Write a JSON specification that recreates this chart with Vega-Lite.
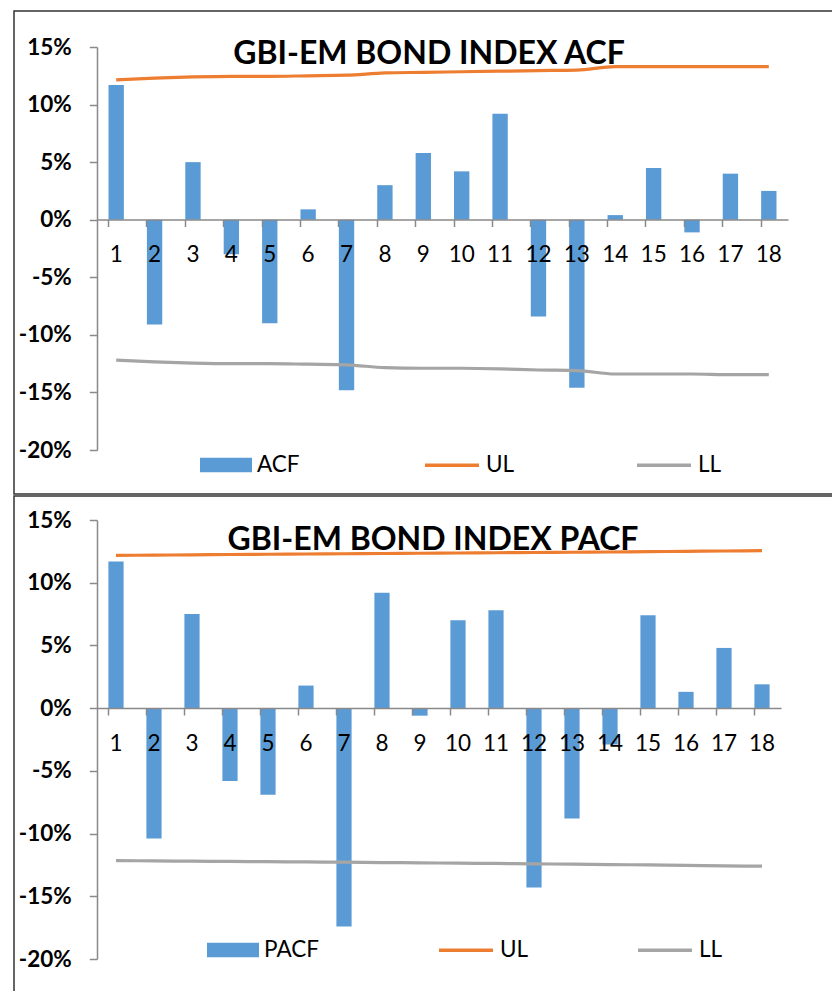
{
  "$schema": "https://vega.github.io/schema/vega-lite/v6.json",
  "padding": {"left": 13, "top": 10, "right": 0, "bottom": 0},
  "background": "white",
  "spacing": 0,
  "config": {
    "view": {"stroke": "#333333", "strokeWidth": 1.5},
    "font": "Lato",
    "axisX": {"domainColor": "#898989", "domainWidth": 1.5, "tickColor": "#898989", "tickWidth": 1.5, "tickSize": 7, "labelFont": "Lato", "labelFontSize": 22.5, "labelColor": "#000000", "labelAngle": 0, "labelPadding": 17, "title": null, "grid": false, "bandPosition": 0, "labelOverlap": false},
    "axisY": {"domainColor": "#898989", "domainWidth": 1.5, "tickColor": "#898989", "tickWidth": 1.5, "tickSize": 7.7, "labelFont": "Lato", "labelFontSize": 22.5, "labelFontWeight": "bold", "labelColor": "#000000", "labelPadding": 18, "title": null, "grid": false, "labelOverlap": false},
    "legend": {"labelFont": "Lato", "labelFontSize": 22.5, "labelColor": "#000000", "labelOffset": 5, "padding": 0, "direction": "horizontal", "orient": "none", "title": null, "rowPadding": 0},
    "title": {"font": "Lato", "fontSize": 32, "fontWeight": "bold", "color": "#000000", "anchor": "middle", "frame": "group", "baseline": "alphabetic"}
  },
  "resolve": {"scale": {"x": "independent", "y": "independent", "fill": "independent", "stroke": "independent"}, "legend": {"fill": "independent", "stroke": "independent"}},
  "datasets": {
    "acf": [
      {"lag": 1, "series": "ACF", "value": 11.7}, {"lag": 2, "series": "ACF", "value": -9.1}, {"lag": 3, "series": "ACF", "value": 5.0},
      {"lag": 4, "series": "ACF", "value": -3.0}, {"lag": 5, "series": "ACF", "value": -9.0}, {"lag": 6, "series": "ACF", "value": 0.9},
      {"lag": 7, "series": "ACF", "value": -14.8}, {"lag": 8, "series": "ACF", "value": 3.0}, {"lag": 9, "series": "ACF", "value": 5.8},
      {"lag": 10, "series": "ACF", "value": 4.2}, {"lag": 11, "series": "ACF", "value": 9.2}, {"lag": 12, "series": "ACF", "value": -8.4},
      {"lag": 13, "series": "ACF", "value": -14.6}, {"lag": 14, "series": "ACF", "value": 0.4}, {"lag": 15, "series": "ACF", "value": 4.5},
      {"lag": 16, "series": "ACF", "value": -1.1}, {"lag": 17, "series": "ACF", "value": 4.0}, {"lag": 18, "series": "ACF", "value": 2.5},
      {"lag": 1, "series": "UL", "value": 12.15}, {"lag": 2, "series": "UL", "value": 12.3}, {"lag": 3, "series": "UL", "value": 12.4},
      {"lag": 4, "series": "UL", "value": 12.45}, {"lag": 5, "series": "UL", "value": 12.45}, {"lag": 6, "series": "UL", "value": 12.5},
      {"lag": 7, "series": "UL", "value": 12.55}, {"lag": 8, "series": "UL", "value": 12.75}, {"lag": 9, "series": "UL", "value": 12.8},
      {"lag": 10, "series": "UL", "value": 12.85}, {"lag": 11, "series": "UL", "value": 12.9}, {"lag": 12, "series": "UL", "value": 12.95},
      {"lag": 13, "series": "UL", "value": 13.0}, {"lag": 14, "series": "UL", "value": 13.3}, {"lag": 15, "series": "UL", "value": 13.3},
      {"lag": 16, "series": "UL", "value": 13.3}, {"lag": 17, "series": "UL", "value": 13.3}, {"lag": 18, "series": "UL", "value": 13.3},
      {"lag": 1, "series": "LL", "value": -12.2}, {"lag": 2, "series": "LL", "value": -12.35}, {"lag": 3, "series": "LL", "value": -12.45},
      {"lag": 4, "series": "LL", "value": -12.5}, {"lag": 5, "series": "LL", "value": -12.5}, {"lag": 6, "series": "LL", "value": -12.55},
      {"lag": 7, "series": "LL", "value": -12.6}, {"lag": 8, "series": "LL", "value": -12.85}, {"lag": 9, "series": "LL", "value": -12.9},
      {"lag": 10, "series": "LL", "value": -12.9}, {"lag": 11, "series": "LL", "value": -12.95}, {"lag": 12, "series": "LL", "value": -13.05},
      {"lag": 13, "series": "LL", "value": -13.1}, {"lag": 14, "series": "LL", "value": -13.4}, {"lag": 15, "series": "LL", "value": -13.4},
      {"lag": 16, "series": "LL", "value": -13.4}, {"lag": 17, "series": "LL", "value": -13.45}, {"lag": 18, "series": "LL", "value": -13.45}
    ],
    "pacf": [
      {"lag": 1, "series": "PACF", "value": 11.7}, {"lag": 2, "series": "PACF", "value": -10.4}, {"lag": 3, "series": "PACF", "value": 7.5},
      {"lag": 4, "series": "PACF", "value": -5.8}, {"lag": 5, "series": "PACF", "value": -6.9}, {"lag": 6, "series": "PACF", "value": 1.8},
      {"lag": 7, "series": "PACF", "value": -17.4}, {"lag": 8, "series": "PACF", "value": 9.2}, {"lag": 9, "series": "PACF", "value": -0.6},
      {"lag": 10, "series": "PACF", "value": 7.0}, {"lag": 11, "series": "PACF", "value": 7.8}, {"lag": 12, "series": "PACF", "value": -14.3},
      {"lag": 13, "series": "PACF", "value": -8.8}, {"lag": 14, "series": "PACF", "value": -2.9}, {"lag": 15, "series": "PACF", "value": 7.4},
      {"lag": 16, "series": "PACF", "value": 1.3}, {"lag": 17, "series": "PACF", "value": 4.8}, {"lag": 18, "series": "PACF", "value": 1.9},
      {"lag": 1, "series": "UL", "value": 12.18}, {"lag": 2, "series": "UL", "value": 12.2}, {"lag": 3, "series": "UL", "value": 12.22},
      {"lag": 4, "series": "UL", "value": 12.25}, {"lag": 5, "series": "UL", "value": 12.27}, {"lag": 6, "series": "UL", "value": 12.29},
      {"lag": 7, "series": "UL", "value": 12.31}, {"lag": 8, "series": "UL", "value": 12.33}, {"lag": 9, "series": "UL", "value": 12.35},
      {"lag": 10, "series": "UL", "value": 12.37}, {"lag": 11, "series": "UL", "value": 12.39}, {"lag": 12, "series": "UL", "value": 12.41},
      {"lag": 13, "series": "UL", "value": 12.43}, {"lag": 14, "series": "UL", "value": 12.45}, {"lag": 15, "series": "UL", "value": 12.48},
      {"lag": 16, "series": "UL", "value": 12.5}, {"lag": 17, "series": "UL", "value": 12.53}, {"lag": 18, "series": "UL", "value": 12.56},
      {"lag": 1, "series": "LL", "value": -12.15}, {"lag": 2, "series": "LL", "value": -12.18}, {"lag": 3, "series": "LL", "value": -12.2},
      {"lag": 4, "series": "LL", "value": -12.22}, {"lag": 5, "series": "LL", "value": -12.24}, {"lag": 6, "series": "LL", "value": -12.26},
      {"lag": 7, "series": "LL", "value": -12.28}, {"lag": 8, "series": "LL", "value": -12.31}, {"lag": 9, "series": "LL", "value": -12.33},
      {"lag": 10, "series": "LL", "value": -12.36}, {"lag": 11, "series": "LL", "value": -12.38}, {"lag": 12, "series": "LL", "value": -12.41},
      {"lag": 13, "series": "LL", "value": -12.44}, {"lag": 14, "series": "LL", "value": -12.47}, {"lag": 15, "series": "LL", "value": -12.5},
      {"lag": 16, "series": "LL", "value": -12.53}, {"lag": 17, "series": "LL", "value": -12.57}, {"lag": 18, "series": "LL", "value": -12.6}
    ]
  },
  "vconcat": [
    {
      "width": 820,
      "height": 483,
      "title": {"text": "GBI-EM BOND INDEX ACF", "offset": -60, "dx": 5},
      "data": {"name": "acf"},
      "encoding": {
        "x": {"field": "lag", "type": "ordinal", "scale": {"range": [83, 774], "paddingInner": 0.6, "paddingOuter": 0.3}, "axis": {"offset": -274.5, "zindex": 2}},
        "y": {"field": "value", "type": "quantitative", "scale": {"domain": [-20, 15], "range": [439, 36], "nice": false, "zero": false},
          "axis": {"offset": -83, "zindex": 2, "values": [-20, -15, -10, -5, 0, 5, 10, 15], "labelExpr": "datum.value + '%'"}}
      },
      "layer": [
        {
          "transform": [{"filter": "datum.series === 'ACF'"}],
          "mark": {"type": "bar"},
          "encoding": {
            "fill": {"field": "series", "type": "nominal", "scale": {"domain": ["ACF"], "range": ["#5B9BD5"]},
              "legend": {"symbolType": "M-1,-0.28H1V0.28H-1Z", "symbolSize": 2704, "symbolStrokeWidth": 0, "legendX": 186, "legendY": 428}}
          }
        },
        {
          "transform": [{"filter": "datum.series !== 'ACF'"}],
          "mark": {"type": "line", "strokeWidth": 3.2, "interpolate": "monotone"},
          "encoding": {
            "stroke": {"field": "series", "type": "nominal", "scale": {"domain": ["UL", "LL"], "range": ["#ED7D31", "#A5A5A5"]},
              "legend": {"symbolType": "stroke", "symbolSize": 2916, "symbolStrokeWidth": 3.5, "columnPadding": 115, "legendX": 409, "legendY": 425}}
          }
        }
      ]
    },
    {
      "width": 820,
      "height": 500,
      "title": {"text": "GBI-EM BOND INDEX PACF", "offset": -61, "dx": 9},
      "data": {"name": "pacf"},
      "encoding": {
        "x": {"field": "lag", "type": "ordinal", "scale": {"range": [83, 767], "paddingInner": 0.6, "paddingOuter": 0.3}, "axis": {"offset": -288, "zindex": 2}},
        "y": {"field": "value", "type": "quantitative", "scale": {"domain": [-20, 15], "range": [463, 24], "nice": false, "zero": false},
          "axis": {"offset": -83, "zindex": 2, "values": [-20, -15, -10, -5, 0, 5, 10, 15], "labelExpr": "datum.value + '%'"}}
      },
      "layer": [
        {
          "transform": [{"filter": "datum.series === 'PACF'"}],
          "mark": {"type": "bar"},
          "encoding": {
            "fill": {"field": "series", "type": "nominal", "scale": {"domain": ["PACF"], "range": ["#5B9BD5"]},
              "legend": {"symbolType": "M-1,-0.28H1V0.28H-1Z", "symbolSize": 2704, "symbolStrokeWidth": 0, "legendX": 193, "legendY": 428}}
          }
        },
        {
          "transform": [{"filter": "datum.series !== 'PACF'"}],
          "mark": {"type": "line", "strokeWidth": 3.2, "interpolate": "monotone"},
          "encoding": {
            "stroke": {"field": "series", "type": "nominal", "scale": {"domain": ["UL", "LL"], "range": ["#ED7D31", "#A5A5A5"]},
              "legend": {"symbolType": "stroke", "symbolSize": 2916, "symbolStrokeWidth": 3.5, "columnPadding": 102, "legendX": 423, "legendY": 425}}
          }
        }
      ]
    }
  ]
}
